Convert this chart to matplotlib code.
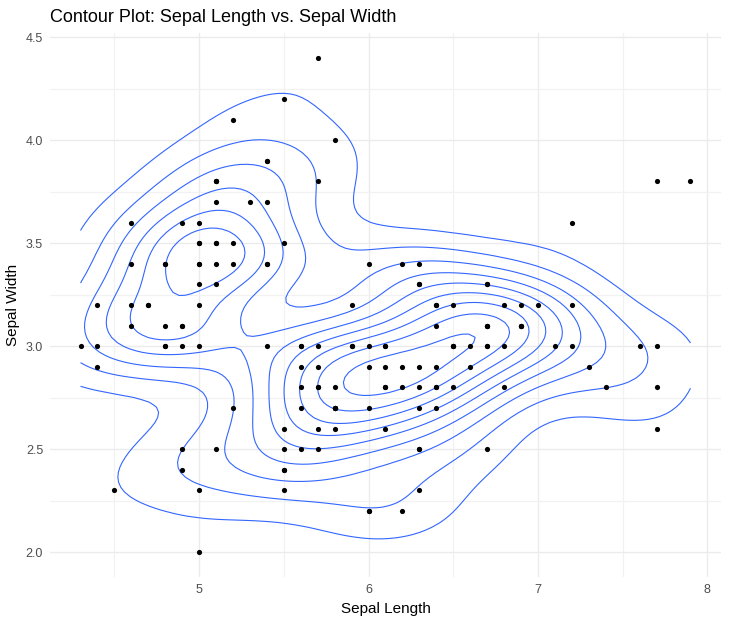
import numpy as np
import matplotlib
matplotlib.use("Agg")
import matplotlib.pyplot as plt

plt.rcParams['font.family'] = ['Liberation Sans', 'DejaVu Sans']

# iris sepal measurements
sepal_length = [
    5.1, 4.9, 4.7, 4.6, 5.0, 5.4, 4.6, 5.0, 4.4, 4.9,
    5.4, 4.8, 4.8, 4.3, 5.8, 5.7, 5.4, 5.1, 5.7, 5.1,
    5.4, 5.1, 4.6, 5.1, 4.8, 5.0, 5.0, 5.2, 5.2, 4.7,
    4.8, 5.4, 5.2, 5.5, 4.9, 5.0, 5.5, 4.9, 4.4, 5.1,
    5.0, 4.5, 4.4, 5.0, 5.1, 4.8, 5.1, 4.6, 5.3, 5.0,
    7.0, 6.4, 6.9, 5.5, 6.5, 5.7, 6.3, 4.9, 6.6, 5.2,
    5.0, 5.9, 6.0, 6.1, 5.6, 6.7, 5.6, 5.8, 6.2, 5.6,
    5.9, 6.1, 6.3, 6.1, 6.4, 6.6, 6.8, 6.7, 6.0, 5.7,
    5.5, 5.5, 5.8, 6.0, 5.4, 6.0, 6.7, 6.3, 5.6, 5.5,
    5.5, 6.1, 5.8, 5.0, 5.6, 5.7, 5.7, 6.2, 5.1, 5.7,
    6.3, 5.8, 7.1, 6.3, 6.5, 7.6, 4.9, 7.3, 6.7, 7.2,
    6.5, 6.4, 6.8, 5.7, 5.8, 6.4, 6.5, 7.7, 7.7, 6.0,
    6.9, 5.6, 7.7, 6.3, 6.7, 7.2, 6.2, 6.1, 6.4, 7.2,
    7.4, 7.9, 6.4, 6.3, 6.1, 7.7, 6.3, 6.4, 6.0, 6.9,
    6.7, 6.9, 5.8, 6.8, 6.7, 6.7, 6.3, 6.5, 6.2, 5.9,
]
sepal_width = [
    3.5, 3.0, 3.2, 3.1, 3.6, 3.9, 3.4, 3.4, 2.9, 3.1,
    3.7, 3.4, 3.0, 3.0, 4.0, 4.4, 3.9, 3.5, 3.8, 3.8,
    3.4, 3.7, 3.6, 3.3, 3.4, 3.0, 3.4, 3.5, 3.4, 3.2,
    3.1, 3.4, 4.1, 4.2, 3.1, 3.2, 3.5, 3.6, 3.0, 3.4,
    3.5, 2.3, 3.2, 3.5, 3.8, 3.0, 3.8, 3.2, 3.7, 3.3,
    3.2, 3.2, 3.1, 2.3, 2.8, 2.8, 3.3, 2.4, 2.9, 2.7,
    2.0, 3.0, 2.2, 2.9, 2.9, 3.1, 3.0, 2.7, 2.2, 2.5,
    3.2, 2.8, 2.5, 2.8, 2.9, 3.0, 2.8, 3.0, 2.9, 2.6,
    2.4, 2.4, 2.7, 2.7, 3.0, 3.4, 3.1, 2.3, 3.0, 2.5,
    2.6, 3.0, 2.6, 2.3, 2.7, 3.0, 2.9, 2.9, 2.5, 2.8,
    3.3, 2.7, 3.0, 2.9, 3.0, 3.0, 2.5, 2.9, 2.5, 3.6,
    3.2, 2.7, 3.0, 2.5, 2.8, 3.2, 3.0, 3.8, 2.6, 2.2,
    3.2, 2.8, 2.8, 2.7, 3.3, 3.2, 2.8, 3.0, 2.8, 3.0,
    2.8, 3.8, 2.8, 2.8, 2.6, 3.0, 3.4, 3.1, 3.0, 3.1,
    3.1, 3.1, 2.7, 3.2, 3.3, 3.0, 2.5, 3.0, 3.4, 3.0,
]
x_ticks = [5, 6, 7, 8]
y_ticks = [2.0, 2.5, 3.0, 3.5, 4.0, 4.5]

x = np.array(sepal_length)
y = np.array(sepal_width)


def bw_nrd(v):
    # MASS::bandwidth.nrd
    q1, q3 = np.percentile(v, [25, 75])
    h = (q3 - q1) / 1.34
    return 4 * 1.06 * min(np.std(v, ddof=1), h) * len(v) ** (-0.2)


def pretty_levels(lo, hi, n=10):
    raw = (hi - lo) / n
    p = 10 ** np.floor(np.log10(raw))
    for m in [1, 2, 5, 10]:
        if m * p >= raw / 1.5:
            step = m * p
            break
    return np.arange(np.floor(lo / step) * step, hi + step, step)


# kde2d on a 100x100 grid over the data range
gx = np.linspace(x.min(), x.max(), 100)
gy = np.linspace(y.min(), y.max(), 100)
hx = bw_nrd(x) / 4
hy = bw_nrd(y) / 4
ax_ = (gx[:, None] - x[None, :]) / hx
ay_ = (gy[:, None] - y[None, :]) / hy
dx = np.exp(-0.5 * ax_ ** 2) / np.sqrt(2 * np.pi)
dy = np.exp(-0.5 * ay_ ** 2) / np.sqrt(2 * np.pi)
z = dx @ dy.T / (len(x) * hx * hy)   # z[i, j] at gx[i], gy[j]

levels = pretty_levels(z.min(), z.max())
levels = levels[(levels > z.min()) & (levels < z.max())]

fig = plt.figure(figsize=(7.29, 6.22), dpi=100)
ax = fig.add_axes([0.0686, 0.0723, 0.9204, 0.8747])

ax.contour(gx, gy, z.T, levels=levels, colors="#3366FF", linewidths=0.8)
ax.scatter(x, y, s=14, color="black", zorder=3, linewidths=0)

ax.set_xlim(4.12, 8.08)
ax.set_ylim(1.88, 4.52)
ax.set_xticks(x_ticks)
ax.set_xticklabels([str(t) for t in x_ticks])
ax.set_yticks(y_ticks)
ax.set_yticklabels([f"{t:.1f}" for t in y_ticks])
ax.set_xticks([4.5, 5.5, 6.5, 7.5], minor=True)
ax.set_yticks([2.25, 2.75, 3.25, 3.75, 4.25], minor=True)
ax.grid(True, which="major", color="#EBEBEB", linewidth=1.0)
ax.grid(True, which="minor", color="#F2F2F2", linewidth=0.9)
ax.set_axisbelow(True)
for s in ax.spines.values():
    s.set_visible(False)
ax.tick_params(which="both", length=0, labelsize=9, labelcolor="#4D4D4D", pad=5)

ax.set_xlabel("Sepal Length", fontsize=11, labelpad=4)
ax.set_ylabel("Sepal Width", fontsize=11, labelpad=4)
fig.text(50 / 729, 1 - 22 / 622, "Contour Plot: Sepal Length vs. Sepal Width",
         fontsize=13, va="baseline")

fig.savefig("out.png", dpi=100)
